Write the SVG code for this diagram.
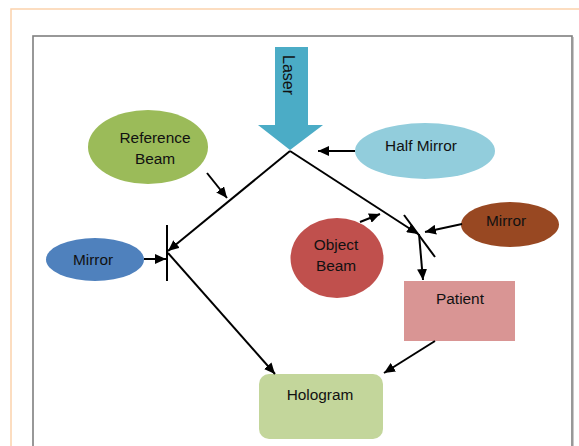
<svg xmlns="http://www.w3.org/2000/svg" width="579" height="446" viewBox="0 0 579 446">
<style>
text{font-family:"Liberation Sans",Arial,sans-serif;font-size:15.4px;fill:#111;text-anchor:middle}
.c{stroke:#000;stroke-width:2;fill:none}
.m{stroke:#000;stroke-width:2;fill:none}
</style>
<defs>
<marker id="ah" markerUnits="userSpaceOnUse" markerWidth="12" markerHeight="10" refX="11" refY="5" orient="auto">
<path d="M0,0 L11,5 L0,10 Z" fill="#000"/>
</marker>
</defs>
<rect x="0" y="0" width="579" height="446" fill="#fff"/>
<rect x="11" y="9" width="620" height="500" fill="none" stroke="#fcd2ac" stroke-width="1.5"/>
<rect x="33" y="36" width="539" height="440" fill="none" stroke="#7f7f7f" stroke-width="1.6"/>
<line x1="573.5" y1="37" x2="573.5" y2="446" stroke="#c8c8c8" stroke-width="1"/>

<g id="laser">
<path d="M275,47 H308 V125 H323 L290,150 L258,125 H275 Z" fill="#4bacc6"/>
<text transform="translate(283,55) rotate(90)" style="text-anchor:start;font-size:16px">Laser</text>
</g>
<g id="half-mirror">
<ellipse cx="425" cy="151" rx="70" ry="28" fill="#92cddc"/>
<text x="421" y="151">Half Mirror</text>
</g>
<g id="reference-beam">
<ellipse cx="148" cy="147" rx="60" ry="37" fill="#9bbb59"/>
<text x="155" y="143">Reference</text>
<text x="155" y="164">Beam</text>
</g>
<g id="mirror-left">
<ellipse cx="95" cy="259.5" rx="49" ry="21.5" fill="#4f81bd"/>
<text x="93" y="265">Mirror</text>
</g>
<g id="mirror-right">
<ellipse cx="510" cy="224.5" rx="49" ry="22.5" fill="#984822"/>
<text x="506" y="226">Mirror</text>
</g>
<g id="object-beam">
<ellipse cx="337" cy="258" rx="46.5" ry="40" fill="#c0504d"/>
<text x="336" y="250">Object</text>
<text x="336" y="271">Beam</text>
</g>
<g id="patient">
<rect x="404" y="281" width="111" height="60" fill="#d99594"/>
<text x="460" y="304">Patient</text>
</g>
<g id="hologram">
<rect x="259" y="374" width="124" height="65" rx="10" fill="#c3d69b"/>
<text x="320" y="400">Hologram</text>
</g>
<g id="mirror-surfaces">
<line class="m" x1="167" y1="225" x2="167" y2="281"/>
<line class="m" x1="404" y1="215" x2="435" y2="257"/>
</g>

<g id="connectors">
<line class="c" x1="355" y1="151" x2="318" y2="151" marker-end="url(#ah)"/>
<line class="c" x1="207" y1="173" x2="227" y2="198" marker-end="url(#ah)"/>
<line class="c" x1="290" y1="151" x2="168" y2="251" marker-end="url(#ah)"/>
<line class="c" x1="290" y1="151" x2="418" y2="234" marker-end="url(#ah)"/>
<line class="c" x1="462" y1="224" x2="425" y2="232" marker-end="url(#ah)"/>
<line class="c" x1="360" y1="222" x2="380" y2="214" marker-end="url(#ah)"/>
<line class="c" x1="419" y1="234" x2="423" y2="280" marker-end="url(#ah)"/>
<line class="c" x1="144" y1="259" x2="166" y2="259" marker-end="url(#ah)"/>
<line class="c" x1="168" y1="253" x2="275" y2="374" marker-end="url(#ah)"/>
<line class="c" x1="435" y1="341" x2="384" y2="373" marker-end="url(#ah)"/>
</g>
</svg>
